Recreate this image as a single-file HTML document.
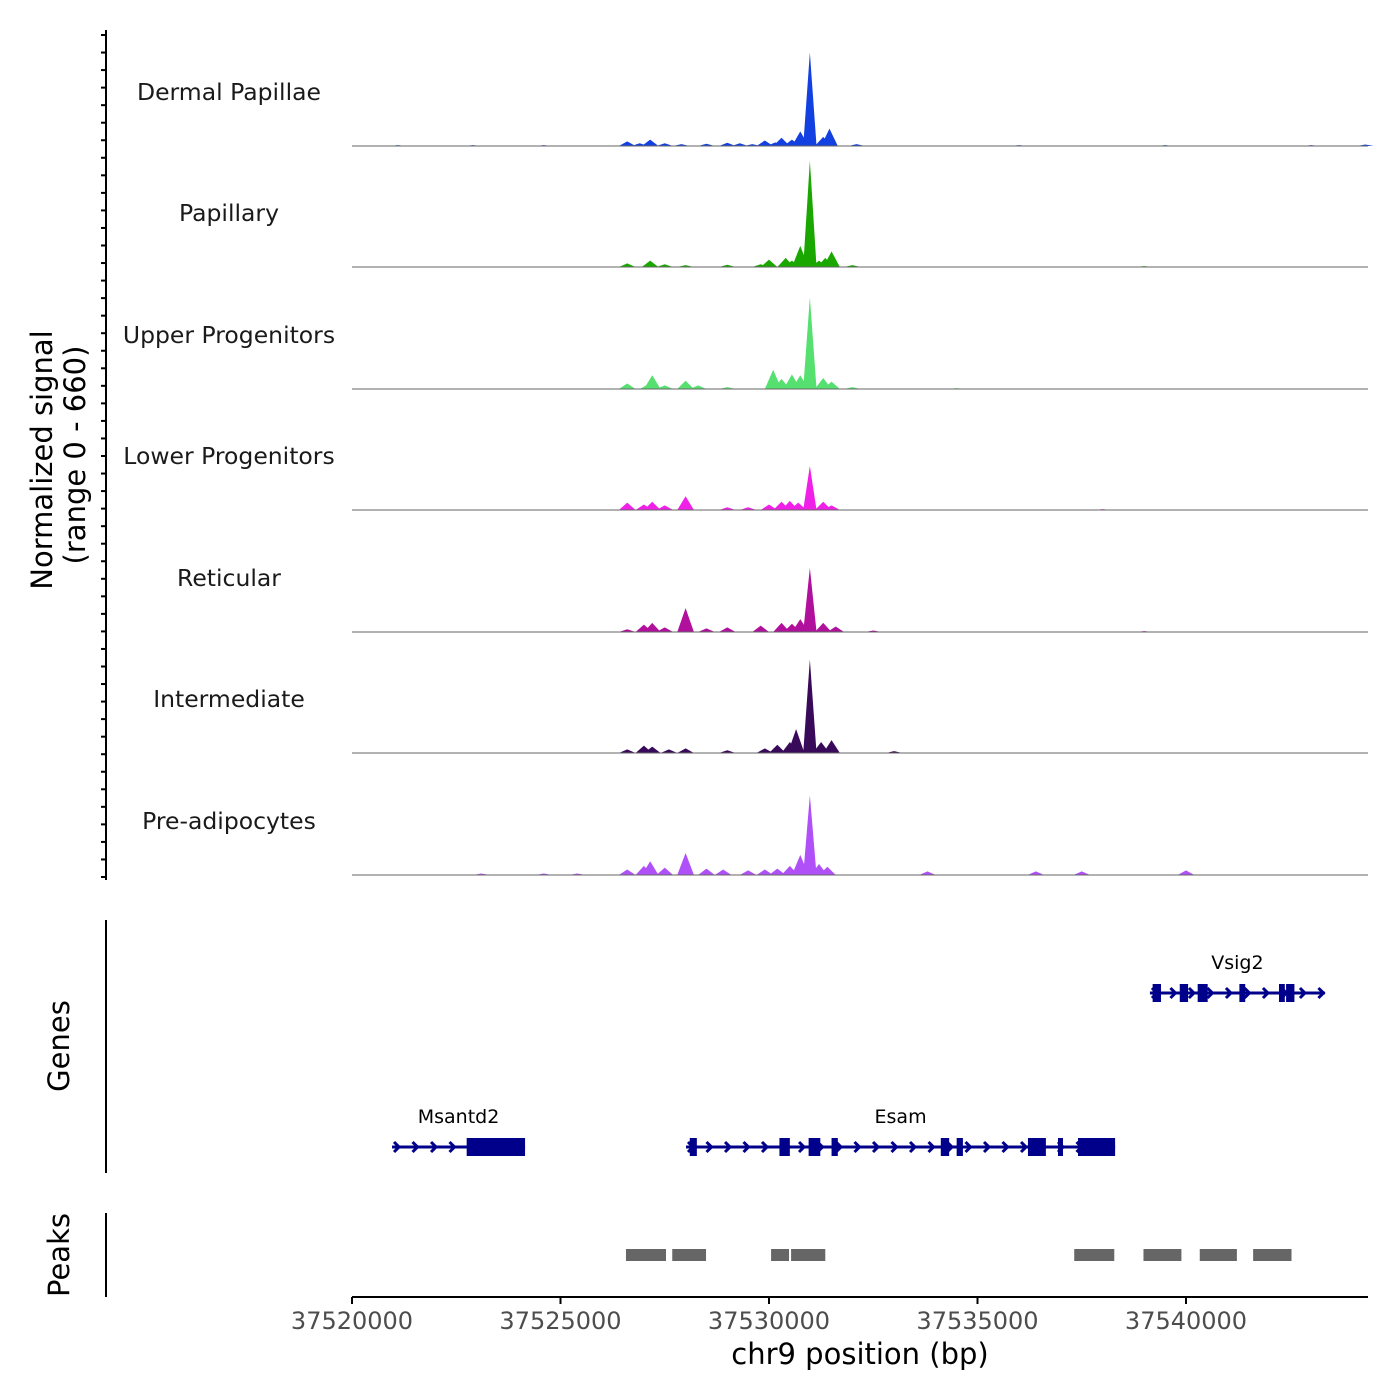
<!DOCTYPE html>
<html><head><meta charset="utf-8"><style>
body{margin:0;background:#fff}
svg{display:block;font-family:"DejaVu Sans","Liberation Sans",sans-serif}
</style></head><body>
<svg id="chart" width="1400" height="1400" viewBox="0 0 1400 1400" xmlns="http://www.w3.org/2000/svg">
<text transform="translate(52,460) rotate(-90)" text-anchor="middle" font-size="29" fill="#000">Normalized signal</text>
<text transform="translate(85,455) rotate(-90)" text-anchor="middle" font-size="29" fill="#000">(range 0 - 660)</text>
<text transform="translate(69,1046) rotate(-90)" text-anchor="middle" font-size="29" fill="#000">Genes</text>
<text transform="translate(69,1255) rotate(-90)" text-anchor="middle" font-size="29" fill="#000">Peaks</text>
<line x1="106" y1="30" x2="106" y2="880" stroke="#000" stroke-width="2"/>
<line x1="106" y1="920" x2="106" y2="1173" stroke="#000" stroke-width="2"/>
<line x1="106" y1="1213" x2="106" y2="1297" stroke="#000" stroke-width="2"/>
<line x1="352" y1="1297" x2="1368" y2="1297" stroke="#000" stroke-width="2"/>
<text x="860" y="1364" text-anchor="middle" font-size="29" fill="#000">chr9 position (bp)</text>
<g id="g"></g>
</svg>
<script>
const trackNames = ["Dermal Papillae","Papillary","Upper Progenitors","Lower Progenitors","Reticular","Intermediate","Pre-adipocytes"];
const trackColors = ["#1340e0","#1aa800","#55e070","#f020e8","#b0109c","#3a0a5a","#b050f8"];
const pos0 = [1.1,2.9,4.6,6.6,6.9,7.15,7.5,7.9,8.5,9.0,9.3,9.6,9.9,10.15,10.3,10.55,10.75,10.98,11.3,11.45,12.1,16.0,19.5,23.0,24.3,26.0,26.6,28.0,29.5,31.0];
const val0 = [5,5,5,25,15,35,15,10,12,18,15,10,30,20,45,35,80,510,50,95,10,5,5,5,8,5,8,5,10,5];
const pos1 = [1.2,6.6,7.15,7.5,8.0,9.0,9.8,10.0,10.4,10.55,10.75,10.98,11.2,11.35,11.5,12.0,19.0,26.6,27.8,29.3,29.7];
const val1 = [3,20,35,15,10,12,15,40,50,35,115,580,35,50,85,10,5,15,10,20,30];
const pos2 = [6.6,7.1,7.2,7.5,8.0,8.3,9.0,10.1,10.3,10.55,10.75,10.98,11.3,11.5,12.0,14.5,26.6,29.5,30.0];
const val2 = [30,25,75,20,45,20,10,105,55,80,75,500,60,40,10,5,30,12,10];
const pos3 = [6.6,7.0,7.2,7.5,8.0,9.0,9.5,10.0,10.3,10.5,10.7,10.98,11.3,11.5,18.0,26.0,28.0,30.0];
const val3 = [40,30,45,25,75,15,15,30,45,50,40,240,45,25,5,8,8,8];
const pos4 = [6.6,7.0,7.2,7.5,8.0,8.5,9.0,9.8,10.3,10.55,10.75,10.98,11.3,11.6,12.5,19.0,26.0,27.2,30.0];
const val4 = [15,40,50,25,130,20,25,35,50,45,70,350,50,30,8,5,10,25,10];
const pos5 = [6.6,7.0,7.2,7.6,8.0,9.0,9.9,10.2,10.5,10.65,10.98,11.25,11.5,13.0,26.0,27.8,29.7,30.2];
const val5 = [20,40,35,20,25,15,25,45,60,130,510,60,70,10,10,25,20,15];
const pos6 = [3.1,4.6,5.4,6.6,7.0,7.15,7.5,8.0,8.5,8.9,9.5,9.9,10.2,10.5,10.75,10.98,11.2,11.4,13.8,16.4,17.5,20.0,26.2,27.0,28.5,29.5,30.3];
const val6 = [8,8,8,30,50,75,40,120,35,30,25,30,35,50,110,435,60,45,20,20,20,25,40,20,20,35,15];
const trackPos = [pos0,pos1,pos2,pos3,pos4,pos5,pos6];
const trackVals = [val0,val1,val2,val3,val4,val5,val6];
const xTicks = [37520000,37525000,37530000,37535000,37540000];
const geneNames = ["Msantd2","Esam","Vsig2"];
const geneStart = [37520960,37528010,37539135];
const geneEnd = [37524150,37538300,37543330];
const geneRow = [1,1,0];
const geneExons = [[[37522750,37524150]],
 [[37528100,37528270],[37530250,37530500],[37530950,37531230],[37531500,37531650],[37534120,37534320],[37534500,37534650],[37536210,37536640],[37536930,37537050],[37537410,37538300]],
 [[37539200,37539400],[37539850,37540050],[37540280,37540520],[37541280,37541420],[37542230,37542370],[37542400,37542600]]];
const peakStart = [37526570,37527680,37530050,37530530,37537320,37538980,37540330,37541610];
const peakEnd = [37527530,37528490,37530480,37531350,37538280,37539890,37541220,37542530];

const BP0=37520000, PX0=352, PXPB=834/20000;
const X = bp => PX0+(bp-BP0)*PXPB;
const base = [146,267,389,510,632,753,875];
const YS = 121/660;
const NS="http://www.w3.org/2000/svg";
const g=document.getElementById('g');
function mk(t,a){const e=document.createElementNS(NS,t);for(const k in a)e.setAttribute(k,a[k]);g.appendChild(e);return e;}
for(let i=0;i<49;i++){const y=35+i*(842/48);
 const t=mk('line',{x1:101,x2:106,y1:y,y2:y,stroke:'#000','stroke-width':2});
 
 }
trackNames.forEach((n,i)=>{
 const b=base[i];
 const lab=mk('text',{x:229,y:b-46,'text-anchor':'middle','font-size':23.5,fill:'#1a1a1a'});
 lab.textContent=n;
 
 
 const ps=trackPos[i], vs=trackVals[i];
 ps.forEach((p,j)=>{
  const bp=BP0+p*1000, v=vs[j], hw=v>200?0.16:0.2;
  const x0=X(bp-hw*1000),x1=X(bp+hw*1000),xc=X(bp),y=b-v*YS;
  const tri=mk('polygon',{points:`${x0},${b} ${xc},${y} ${x1},${b}`,fill:trackColors[i]});
  
  
 });
 const bl=mk('line',{x1:352,x2:1368,y1:b,y2:b,stroke:'#666','stroke-width':1});
 
 
});
geneNames.forEach((n,i)=>{
 const y=geneRow[i]?1147:993, x0=X(geneStart[i]), x1=X(geneEnd[i]);
 const l=mk('line',{x1:x0,x2:x1,y1:y,y2:y,stroke:'#00008b','stroke-width':3});
 
 
 for(let x=x0+6;x<x1;x+=18.5){
  const a=mk('polyline',{points:`${x-4},${y-5} ${x+1},${y} ${x-4},${y+5}`,fill:'none',stroke:'#00008b','stroke-width':3});
  
  
 }
 geneExons[i].forEach(e=>{
  const r=mk('rect',{x:X(e[0]),y:y-9,width:X(e[1])-X(e[0]),height:18,fill:'#00008b'});
  
  
 });
 const t=mk('text',{x:(x0+x1)/2,y:y-24,'text-anchor':'middle','font-size':19,fill:'#000'});
 t.textContent=n;
 
 
});
peakStart.forEach((s,i)=>{
 const r=mk('rect',{x:X(s),y:1249,width:X(peakEnd[i])-X(s),height:12,fill:'#666'});
 
 
});
xTicks.forEach(t=>{
 const x=X(t);
 const l=mk('line',{x1:x,x2:x,y1:1297,y2:1304,stroke:'#000','stroke-width':2});
 
 
 const tx=mk('text',{x:x,y:1329,'text-anchor':'middle','font-size':24,fill:'#4d4d4d'});
 tx.textContent=t;
 
 
});
</script>
</body></html>
